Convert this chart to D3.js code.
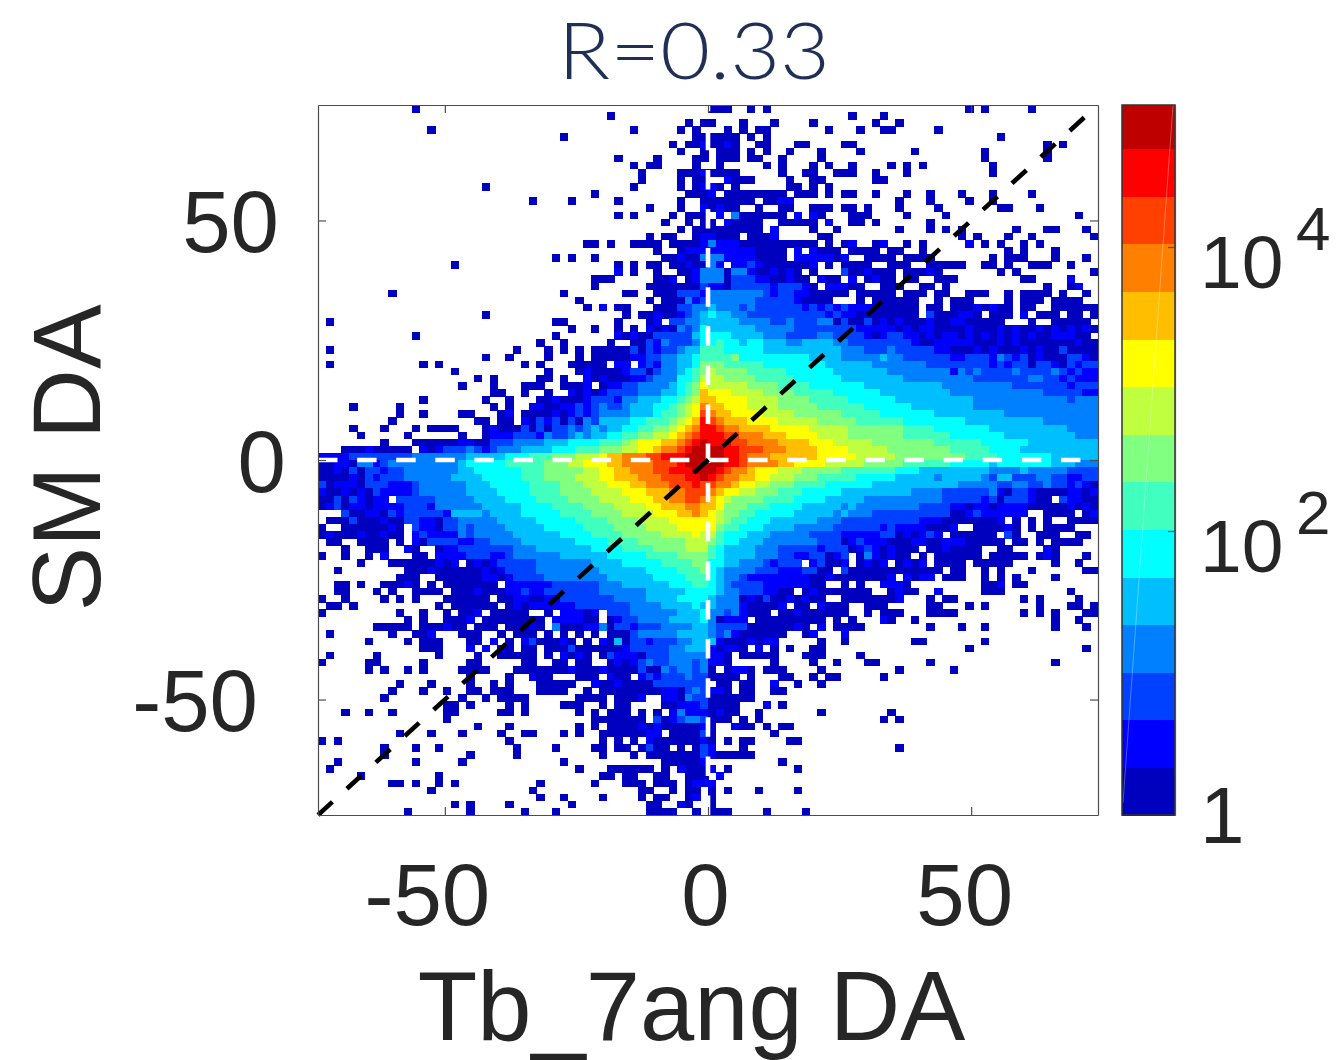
<!DOCTYPE html>
<html>
<head>
<meta charset="utf-8">
<title>R=0.33</title>
<script src="https://cdn.jsdelivr.net/npm/d3@7"></script>
<style>
html, body { margin: 0; padding: 0; background: #fff; }
svg { display: block; }
text { font-family: "Liberation Sans", Arial, sans-serif; fill: #262626; }
</style>
</head>
<body>
<div id="chart"></div>
<script>
var titleText = "R=0.33";
var xLabel = "Tb_7ang DA";
var yLabel = "SM DA";
var xTicks = [-50, 0, 50];
var yTicks = [-50, 0, 50];
var colorTicks = [1, 100, 10000];
var axisLimit = 74.1;
var identityLine = [-74.1, 74.1];

// one colour per class, three classes per decade of counts
var classColors = ["#0000BF", "#0000FF", "#0040FF", "#0080FF", "#00BFFF", "#00FFFF", "#40FFBF", "#80FF80",
	"#BFFF40", "#FFFF00", "#FFBF00", "#FF8000", "#FF4000", "#FF0000", "#BF0000"];

// histogram classes, one entry per row from the top.
// "col:chars" = hex-like class chars (0..e) starting at that column, the rest of the row is empty
var heatRows = [
"12:0 50:000 55:0 57:0 83:0 85:0 91:0",
"37:0 68:0 72:0",
"47:0 49:0 50:0 54:0 58:0 63:0 71:0 74:0",
"14:0 40:0 46:0 48:0 52:0 54:0 56:00 65:0 69:0 72:00 79:0",
"31:0 48:000000 55:0 57:0 87:0",
"45:0 47:0 48:010010 56:00 61:00 67:00 93:0 95:0",
"46:0 49:0 51:000 55:0 57:0 60:0 64:0 69:0 76:0 85:0 93:0",
"38:0 43:0 48:00 51:000 55:00 59:0 64:0 85:0 93:0",
"40:0 42:00 48:0 51:0 57:0 59:0 63:0 65:0 68:0 73:0 75:0 77:0 86:0",
"41:0 46:0001 50:0000 59:0 62:00 66:000 71:0 75:0 86:0",
"41:0 46:0 48:00 52:1 53:000 60:0 63:00 71:00",
"21:0 40:0 46:0 48:0 49:1 50:1 51:0 53:0 60:00 63:0 65:0",
"35:0 47:000 50:1 52:00000000 61:000 65:0 67:00 71:0 75:0 78:0 82:0 86:0 91:0",
"27:0 32:0 38:0 46:0 49:0000000 57:00 59:11 74:0 78:0 83:0 86:0",
"42:0 46:0 49:1 50:0100 56:0 59:00 63:000 67:00 70:0 74:0 79:0 87:00 92:0",
"38:0 40:0 45:0 47:00 49:0 51:1 53:3 54:000000 61:1 63:10 68:000 75:0 80:0 97:0",
"44:0 47:0 49:00 52:1 53:0000 59:00000 65:1 68:00 71:0 78:0",
"46:0 48:00 50:0000000 58:1 63:0 66:0 74:0 78:0 80:0 82:0 89:0 93:00 98:0",
"42:0 44:00 48:0 49:1 50:1 51:000 55:000 58:1 64:00 82:0 84:0 88:0 91:0 99:0",
"34:00 37:0 40:0000 45:0000 49:1 50:3 51:111 54:0000000000 65:0 67:0 68:1 71:0 72:1 75:0 77:0 83:1 85:0 87:0 90:0 92:0",
"43:0 46:0 47:111 50:1 51:1 52:111 55:1 56:00 58:00 61:1 63:1 64:000 68:0000 73:00 77:0 88:0 90:0 94:0",
"30:0 32:0 35:0 44:00 46:1 47:00 49:3 50:3 51:3 52:11 54:11 56:0000 61:1 62:1111 66:00 67:1 70:0000 75:0000 86:0 88:000 94:0 98:0",
"17:0 38:0 40:0 42:00 45:00 47:1 48:00 50:3 51:1 53:111 55:2 56:1 57:00 59:00 61:00 63:1 65:0 67:0000 73:0 74:00 78:00000 85:00 88:0 91:000 96:0",
"38:1 40:0 43:0 46:00 48:1 49:3 50:3 51:3 52:0 53:3 54:3 55:1 56:00 58:1 59:0 60:1 61:0 63:0 67:2 68:00 70:1 71:000 75:0 76:00 78:1 79:0 87:0 89:0 99:0",
"35:000 43:00 45:1 47:0 48:1 49:3 50:3 51:3 52:0 53:222 56:1 57:1 58:00 60:1 61:00 64:1 65:00 68:1 70:0 71:1 72:00 75:00 79:000 90:00 96:1",
"35:0 42:000000 48:00 49:2 50:1 51:1 52:0 53:22222 58:1 59:222 62:1 63:0 65:111 68:00 72:000 77:00 80:0 93:0 96:01",
"9:0 31:0 39:00 43:000 46:222 49:1 50:3 51:333333 57:2 58:1 59:22 61:1 62:1 63:00 65:000 69:0000 73:0 75:000 79:00 83:00 85:0 88:0 90:0000 95:0 98:0",
"33:0 42:0 44:000 47:3 48:1 49:2 50:3 51:33333 56:222 59:22 61:1 62:0000 69:0 71:000000 79:0 81:00 83:0 88:0 90:000 94:0000",
"34:0 36:1 38:00 43:000 46:22 48:3 49:3 50:4 51:333 54:2 55:3 56:222 59:222 62:1 63:2 64:1 65:2 66:1 67:2 68:111 71:0 72:00 74:0 75:00 78:0 79:0 81:000 84:1 85:0 86:1 87:00 90:00 94:000000",
"21:0 39:0 41:00 43:1 44:00 46:1 47:2 48:3 49:4 50:5 51:44 53:33 55:2 56:222222222 65:1 66:2 67:11 69:00 71:0000 75:00 78:2 79:000 82:1 83:1 84:0 86:000 90:1 92:00 94:0 96:00 99:0",
"1:0 30:00 38:0 42:0 43:1 45:22 47:33 49:4 50:4444 54:333 57:3 58:22 60:3 61:222 64:3 65:3 66:0 67:2 68:0 69:0 70:2 71:0101 75:00 77:0 78:1 79:00 81:11 83:0 84:0 85:000 91:0 94:0 95:000 98:0",
"32:0 35:0 38:0 40:0 42:1 43:0 44:1 45:0 46:3 47:2 48:3 49:5 50:444444 56:3 57:3333 61:2222222 68:2 69:1 70:1111 74:0101 78:1 79:000 82:0 83:1 84:0 85:00 87:1 88:0 89:1 90:00 92:1 93:0 94:101 97:0 98:10",
"12:0 30:0 38:1 39:0 40:1 41:00 43:22222 48:4 49:5555 53:4444 57:333 60:2222 64:33 66:2222 70:1 71:0122 75:1101 79:0 80:11 82:01 84:0 85:1 86:0 87:1 88:0 89:10 91:10 93:01 95:11 97:0 98:0",
"28:0 31:0 37:0 40:00 42:2 43:1 44:3 45:2222 48:3 49:556 52:55 54:4 55:55 57:444 60:33 62:4444 66:33 68:222222 74:22 76:1 77:00 79:1 80:11 82:1 83:1 84:000 87:1 88:0 89:1 90:000000 96:0 97:1 98:00",
"1:0 25:0 29:0 31:0 33:0 35:00000 40:2 41:0 42:2 43:1 44:22 46:3 47:44 49:666 52:55555 57:4444444444 67:333 70:22 72:2 73:3 74:2222 78:2 79:11 81:0 82:0 83:0 84:1 85:0 86:1 87:00 89:0 90:1 91:0 92:1 93:00 95:2 96:0 97:000",
"21:0 24:0 29:0 33:0 35:00000 40:11 42:22 44:33 46:44 48:5 49:66667 54:5 55:55555 60:555 63:4444 67:33333 72:4 73:33 75:222222 81:11 83:222 86:1 87:3 88:2 89:1 90:2 91:0 92:1 93:0 94:00 96:2 97:2 98:1 99:0",
"1:0 13:0 15:0 26:0 28:0 32:00000 38:11 41:1 42:2 43:1 44:33 46:44 48:5 49:777 52:66666 57:55555555 65:444444 71:3333333 78:22222222 86:1 87:2 88:1 89:2 90:2 91:0 92:2 93:2 94:1 95:0 96:2 97:1 98:2 99:2",
"17:0 29:0 33:0 34:1 35:0000 39:1 40:22 42:0 43:2 44:33 46:4 47:5 48:6 49:7 50:8 51:7777 55:66666 60:555555 66:4444444 73:33333333 81:1 82:3 83:2 84:3 85:2 86:222 89:3 90:2222 94:3 95:2 96:1 97:2 98:1 99:1",
"20:0 22:0 28:00 31:0 34:1 35:0 36:1 37:000 40:11 42:2 43:333 46:55 48:6 49:888 52:7777 56:66666 61:555555 67:44444444 75:333333333 84:2222222 91:33 93:22 95:1 96:2 97:1 98:1 99:1",
"18:0 22:0 26:000 31:000 34:1 36:0 37:11 39:22 41:3333 45:4 46:5 47:6 48:7 49:988 52:888 55:7777 59:6666 63:5555555 70:4444444444 80:333333333 89:2222222 96:1 97:222",
"22:00 26:0 29:0 32:1 33:0 34:1 35:0 36:1 37:2222 41:333 44:44 46:5 47:6 48:7 49:a99 52:9 53:8888 57:7777 61:66666 66:555555 72:444444444 81:333333333333 93:22222 98:11",
"13:0 21:0 24:0 28:00 30:1 31:000 34:1 35:222 38:1 39:33 41:444 44:555 46:6 47:7 48:8 49:aa 51:9999 55:8888 59:7777 63:66666 68:555555 74:4444444444 84:333333333333 96:2 97:33 99:3",
"4:0 10:0 22:0 24:0 27:11 29:00 31:11 33:2 34:1 35:2 36:3 37:22 39:3 40:444 43:55 45:6 46:7 47:8 48:9 49:baa 52:999 55:8888 59:77777 64:666666 70:555555 76:44444444 84:3333333333333333",
"10:0 13:0 18:00 23:0 24:1 26:000 29:0 30:1 31:0 32:1 33:2 34:1 35:2 36:3333 40:444 43:5 44:66 46:7 47:8 48:9 49:cba 52:a 53:9999 57:8888 61:777777 67:66666 72:5555555 79:444444444 88:333333333333",
"9:0 20:00 23:00 26:1 27:0 28:2 29:1 30:2 31:0 32:2 33:0 34:3 35:2 36:4444 40:55 42:666 45:7 46:8 47:9 48:a 49:dcb 52:aaa 55:9999 59:88888 64:77777 69:666666 75:55555555 83:4444444444 93:3333333",
"4:0 8:0 12:0 14:0000 21:0 22:1 23:000 26:2 27:0 28:2 29:0 30:22 32:3 33:2 34:3 35:4 36:3 37:44 39:55 41:66 43:77 45:8 46:9 47:a 48:b 49:ddc 52:bb 54:aaaa 58:99999 63:88888 68:7777777 75:6666 79:5555555 86:4444444444 96:3333",
"5:0 11:0 18:0 21:0 22:111 25:222 28:1 29:3 30:22 32:3 33:4 34:3 35:44 37:55 39:66 41:77 43:88 45:9 46:a 47:b 48:c 49:ddd 52:cc 54:bbb 57:aaa 60:9999 64:8888 68:7777777 75:666666 81:5555555 88:444444444 97:333",
"8:0 12:000000 18:11 20:00 22:222 25:3333 29:444 32:5555 36:666 39:7 40:8 41:999 44:aa 46:b 47:c 48:d 49:eddd 53:cc 55:bbbb 59:aaaa 63:999 66:88888 71:77777777 79:666666 85:555555 91:444444444",
"3:000 6:1 7:00000 13:1 14:0 15:1 16:222 19:3 20:2 21:1 22:2 23:333 26:4444 30:555 33:666 36:777 39:88 41:99 43:a 44:bb 46:c 47:d 48:e 49:eeedd 54:ccc 57:bbb 60:aaaa 64:9999 68:88888 73:77777777 81:66666 86:5555 90:4444444444",
"0:111 3:1 4:22222222 12:3333333 19:44444 24:555 27:666 30:777 33:888 36:9 37:aa 39:bbb 42:cc 44:ddd 47:ee 49:eee 52:dd 54:c 55:bbb 58:aaaaaa 64:99999 69:88888 74:77 76:7777777 83:6666 87:555555 93:5 94:444444",
"0:00110 5:33 7:1 8:2 9:3 10:3333 14:3333 18:4 19:55555 24:66666 29:777 32:88 34:999 37:aa 39:bbbb 43:ccc 46:d 47:ee 49:eee 52:dd 54:c 55:bbbb 59:aa 61:9999 65:88888 70:77777 75:666666 81:55555 86:4 87:5555555 94:444 97:333",
"0:00102 5:0 6:22 8:1 9:22 11:3333333 18:44 20:555555 26:666 29:77777 34:88 36:99 38:aa 40:bbb 43:cc 45:ddd 48:e 49:eed 52:c 53:bb 55:a 56:999 59:888 62:77777 67:6666666 74:555 77:444444444 86:3333 90:4 91:33333 96:2222",
"0:00001 5:0 6:2 7:1 8:222 11:333333 17:4444 21:55555 26:666 29:7777 33:888 36:99 38:aaa 41:bbb 44:ccc 47:dd 49:edc 52:bb 54:aa 56:99 58:888 61:777 64:66666 69:55555 74:44444 79:3 80:44444 85:3 86:2 87:44 89:222 92:33 94:22 96:11 98:22",
"0:20111 5:0 6:222 9:111 12:2 13:333333 19:444 22:55555 27:6666 31:777 34:888 37:999 40:aa 42:bbb 45:ccc 48:d 49:ccb 52:b 53:a 54:99 56:88 58:777 61:6666 65:555555 71:44444444444 82:3333 86:3 87:22 89:33 91:22 93:3 94:22 96:1 97:2 98:1 99:0",
"0:10010 5:1 6:0 7:2 8:1111 12:2 13:333333 19:4444 23:5555 27:6666 31:7777 35:8888 39:999 42:aaa 45:bb 47:cc 49:cba 52:99 54:88 56:777 59:666 62:55555 67:444444444 76:3333 80:222222 86:3 87:1 88:0 89:22 91:1 92:0000 96:11 98:0 99:1",
"0:00202 5:1 6:0 7:11 10:222222 15:33333 20:4444 24:5555 28:6666 32:7777 36:8888 40:999 43:aa 45:bb 47:cc 49:ba9 52:8 53:7777 57:6666 61:5555 65:44444 70:3333333333 80:22222 85:1 86:2 87:0 88:222 91:1 92:00 95:2 96:11 98:00",
"0:01201 5:1 6:0 7:1111 11:222 14:1 15:333333 21:44444 26:5555 30:6666 34:7777 38:8888 42:99 44:aaa 47:bb 49:aa9 52:777 55:666 58:5555 62:44444 67:3 68:4 69:33333333 77:2222 81:11 83:0 84:11 86:0 87:1111 91:0 92:000 95:0 96:1 97:0 98:1 99:0",
"3:2 4:00 6:11 8:0 9:2 10:1 11:22222 16:1 17:4444 21:3 22:4444 26:55555 31:6666 35:7777 39:8888 43:999 46:aa 48:b 49:a98 52:77 54:66 56:55555 61:44444 66:3 67:4 68:333 71:22 73:22222222 81:00 83:1 84:2 85:1 86:11 88:111 93:0000 98:0 99:1",
"1:000 4:2 5:000 8:1 9:00 11:22 13:11 15:0 16:22 18:333 21:33 23:44444 28:55555 33:6666 37:7777 41:8888 45:9999 49:998 52:7 53:66 55:555 58:444444 64:333 67:222222222 76:2 77:111 80:0000 84:000 87:1 89:0 91:0 93:0 96:00 98:00",
"0:0 3:0000 7:00 9:1 10:0 12:2 13:11 15:0 16:22 18:3 19:2 20:3333 24:44444 29:55555 34:6666 38:7777 42:8888 46:999 49:997 52:66 54:555 57:4444 61:33333 66:222222 72:1 73:2 74:1111 78:00 80:0 81:1 84:0 85:00 87:0 88:1 89:0 91:0 93:00 95:00",
"0:0 1:1 2:000 5:1 6:00 8:1 9:00 12:1 13:2 14:111 17:1 18:3 19:2 20:33333 25:444444 31:5555 35:6666 39:77777 44:8888 48:9 49:886 52:555 55:444 58:33333 63:2222 67:1111 71:1 72:22 74:0 75:1 76:0 77:1 78:2 79:1 81:00 83:0 84:000 88:2 89:0 92:000 97:00",
"1:00 5:0 6:000 10:0 12:1 13:0 14:2222 18:11 20:22 22:3333 26:4444444 33:5555 37:6666 41:777777 47:88 49:876 52:55 54:444 57:3333333 64:222 67:0 68:1 69:2 70:111 73:0 74:00 76:11 78:00 80:11 82:1 83:0 84:0000 89:00 92:0 94:00 96:00",
"3:0 6:000 8:0 11:1 12:0 15:0 16:11 18:2222222 25:333 28:4444444 35:5555 39:6666 43:7777 47:88 49:865 52:4444 56:333 59:22222 64:1 65:222 68:0 69:1 70:2 71:1 72:0 73:1 74:00 76:0 78:00 80:1 81:00 83:00 87:00 93:1 94:0",
"0:0 3:0 6:0 8:1 12:00 15:1111 19:2 20:22 22:11 24:2 25:333333 31:444444 37:55555 42:6666 46:777 49:765 52:4444 56:333 59:22 61:11 63:22 65:0 66:1 67:2 69:0 70:3 71:1 72:0 73:1 74:00 77:0 79:00000 84:0 86:0000 90:0 92:0 93:1 94:0 98:0",
"5:0 9:0000 13:00 15:1 16:0 17:1 19:0 20:1 21:0 22:1 23:22222 28:3333333 35:4444 39:55555 44:6666 48:7 49:755 52:44 54:333 57:2 58:1 59:222 63:1 64:2 65:00 67:1 69:0 70:1 71:0 72:1 74:0 75:1 76:0 77:1 79:0000 84:000 87:00 94:0 97:0",
"2:0 11:000 14:1 15:00000 20:0 21:1 22:0 23:1 24:2222 28:33333333 36:444444 42:5555 46:666 49:75 51:4 52:3333 56:222 59:111 62:2 63:2 64:00 67:2 68:000000000000 81:00 85:0 87:0 91:0 98:00",
"10:000 15:0 16:00000 21:11 23:0 24:1 25:2222 29:33333333 37:444444 43:5555 47:66 49:654 52:33 54:2 55:1 56:111 59:111 62:1 63:00 65:1 66:00 68:00 70:00 72:0 73:1 75:1 76:0 77:11 80:000 85:0 87:0 89:0 94:0",
"2:00 5:0 8:000 11:1 12:0 14:0 16:000000 22:0 24:1 25:11111 30:222222 36:333 39:444444 45:555 48:6 49:655 51:4 52:3 53:2222 57:111111 63:00 67:0 69:0 72:111 75:0 85:00 87:1 89:00",
"2:00 7:0 9:0 12:0000 17:000 20:1 21:000 24:11 26:2 27:11 29:2222222 36:333333 42:44444 47:55 49:55 51:4 52:33 54:222 57:11 59:00 62:0 63:1 64:000000 70:0 73:0 74:1 75:00 79:1 85:00 87:0 96:0",
"0:0 3:0 8:0 10:0 12:0 16:000000 23:00 25:11 27:00 29:11 31:2222222 38:3333 42:4444 46:555 49:54 51:333 54:0 55:1 56:0 57:2 58:0 59:0 60:1 61:0 62:1 63:00 67:00000000 74:1 78:0 80:00 90:0 92:0 97:0",
"1:00 4:0 15:0 17:000 20:000 24:0 25:1 26:0 27:1 28:11111 33:2222222 40:3333 44:4444 48:5 49:44 51:333 54:1 55:0 56:000 59:1 61:00 64:1 65:000 70:000 78:00 83:0 85:0 92:0 96:00 99:0",
"0:0 10:0 13:0 16:0 18:00 20:1 22:000 25:00 29:0 31:111 34:0 35:1 37:222 40:333333 46:444 49:53 51:3 52:2 53:3 54:1 55:0 56:00 59:00 61:1 62:000000 70:0 72:000 78:0000 90:0 92:0 94:0 98:00",
"11:0 13:0 16:0 17:00 19:1 21:000 24:00 26:00 28:0 30:1 31:111 34:00 37:0 38:1 39:22 41:3333 45:4444 49:5 50:3 51:0 52:111 56:000000000 66:0 68:0 72:1 73:0 76:0 94:0 97:0",
"7:00000 13:000 16:1 17:00 20:000 24:000 27:1 28:0 30:3 31:000 34:11 36:3 37:0 38:22 40:1 41:222 44:3333 48:4 49:4 50:3 51:2222 55:000000 61:1 62:0 64:1 66:0000 78:0 82:0 85:0 94:0 98:0",
"1:0 9:0 12:00 14:1 18:000 23:0 25:0 26:00 29:0 31:0 33:0 35:0 37:0 38:00 40:2 41:33333 46:444 49:4 50:3 51:2 52:3 53:1 54:000000 62:0 63:1 67:1",
"6:0 11:0 13:00 15:0 19:00 22:1 24:0 26:1 27:2 28:00 30:0 31:1 32:0 34:0 36:1 37:0 38:4 39:0 40:22 42:1 43:222 46:33 48:4 49:4 50:4 51:1 52:000 55:1 56:0 57:11 64:0 67:0 76:00 85:0",
"13:000 19:1 21:1 23:1 24:0 26:00 29:000 32:2 33:000 36:000 39:1 40:22222 45:33 47:444 49:4 50:1 51:0 52:11 54:0 56:1 58:0 60:0 63:00 83:0 98:0",
"1:0 7:0 15:0 20:0 23:000 26:00 29:0 31:1 32:0 33:1 34:0 36:0 37:2 38:111 41:0 42:222 45:3333 49:3 50:11 52:0 54:00000 62:000 69:0",
"0:0 6:00 13:0 19:00 26:00 30:00 33:00 37:0 38:1 39:0 40:1 41:2 42:3 43:22 45:33 47:3 48:2 49:3 50:11 52:0 58:0 63:0 66:0 70:00 78:0 94:0",
"6:0 8:0 11:0 13:0 18:0000 25:00000 30:00 32:1 33:000 36:1 37:0000 41:2 42:00 44:3 45:2 46:33 48:2 49:3 50:0 52:0 53:11 55:0 57:000 64:0 74:0 81:0",
"19:0 24:0 27:1 28:00 33:000 37:1 38:00 41:1 42:2 43:1 44:222 47:3 48:2 49:2 50:0000 55:0 59:00 63:0 65:00 72:0",
"10:0 14:0 19:0 22:0 24:0 28:00000 35:1 36:00 38:1 39:0000 43:22 45:2222 49:2 51:0 52:0 54:00 58:1 61:0 64:0",
"9:0 13:0 16:0 19:00 22:000 28:0000 34:0 36:000 39:00000 44:11 46:0 47:2 48:3 49:2 50:11 52:0 54:00 58:00",
"8:0 18:0 21:0 23:0000 33:0000 38:00 40:00 41:1 44:11 46:0 47:3 48:2 49:2 50:0000 54:00",
"16:00 19:0 24:0 26:0 31:000 36:0 38:00 44:00 46:111 49:2 50:0000 57:1 59:0",
"3:0 6:0 9:0 16:00 23:00 26:0 33:0 35:0 37:000 41:0 43:0 45:1 46:3 47:11 49:1 50:01 52:00 56:0 64:0 73:0",
"16:0 35:0000000 43:2 44:0 45:1 46:2 47:333 49:2 50:000 54:0 56:0 72:0 74:0",
"20:0 24:0 33:0 35:0 37:0000 41:1 42:0 43:1 44:00 46:000 49:1 50:0 53:1 54:00 57:0 59:00",
"10:0 14:0 18:0 23:0 26:00 31:0 33:0 36:000000 42:11 45:00 47:00 49:2 50:0 58:0",
"0:0 2:0 24:0 36:0 38:0 40:0 42:1 43:0 44:000000 49:1 50:0 52:0 54:00 60:00",
"8:0 12:0 15:0 25:0 30:0 35:00 38:00 41:0 42:2 43:0 44:0 46:0 48:0 49:2 50:1 54:0 74:0",
"8:0 19:0 25:0 36:0 40:0 42:00 44:00000 49:2 50:1 51:00000",
"2:0 12:0 18:0 31:0 44:000000 49:1 59:0",
"1:0 33:0 37:000000 44:0 46:1 47:00 49:0 50:1 52:0 61:0",
"5:0 15:0 36:00 39:00 43:00 47:000 51:1",
"9:00 12:0 15:0 17:0 28:0 35:0 39:000 43:000 47:01 49:11",
"14:0 27:0 41:00 45:0 47:00 50:0 52:0 56:0 61:0",
"28:0 31:0 36:0 41:0 43:00 47:0 48:1 50:0",
"17:0 19:0 24:0 32:0 42:00 46:10 50:0",
"11:0 19:0 26:0 30:0 42:0000 48:0 50:000 57:0 62:0"
];

var width = 1341, height = 1060;
var plot = {left: 318, right: 1098, top: 105, bottom: 815};
var bar = {left: 1122, right: 1175};

function parseRows(rows) {
	var cells = [];
	rows.forEach(function(row, r) {
		row.split(" ").forEach(function(seg) {
			var parts = seg.split(":");
			var start = +parts[0];
			parts[1].split("").forEach(function(ch, i) {
				cells.push({row: r, col: start + i, level: parseInt(ch, 16)});
			});
		});
	});
	return cells;
}

var svg = d3.select("#chart").append("svg").attr("width", width).attr("height", height);

var x = d3.scaleLinear().domain([-axisLimit, axisLimit]).range([plot.left, plot.right]);
var y = d3.scaleLinear().domain([-axisLimit, axisLimit]).range([plot.bottom, plot.top]);
var colBand = d3.scaleBand().domain(d3.range(100)).range([plot.left, plot.right]);
var rowBand = d3.scaleBand().domain(d3.range(100)).range([plot.top, plot.bottom]);
var color = d3.scaleOrdinal().domain(d3.range(classColors.length)).range(classColors);

// cells
svg.append("g").attr("shape-rendering", "crispEdges")
	.selectAll("rect")
	.data(parseRows(heatRows)).enter()
	.append("rect")
	.attr("x", function(d) { return colBand(d.col); })
	.attr("y", function(d) { return rowBand(d.row); })
	.attr("width", colBand.bandwidth() + 0.5)
	.attr("height", rowBand.bandwidth() + 0.5)
	.attr("fill", function(d) { return color(d.level); });

// guide lines
function addGuide(x1, y1, x2, y2, stroke) {
	svg.append("line")
		.attr("x1", x(x1)).attr("y1", y(y1))
		.attr("x2", x(x2)).attr("y2", y(y2))
		.attr("stroke", stroke)
		.attr("stroke-width", 4.6)
		.attr("stroke-dasharray", "19.5 19.6");
}
addGuide(-axisLimit, 0, axisLimit, 0, "#fff");
addGuide(0, -axisLimit, 0, axisLimit, "#fff");
addGuide(identityLine[0], identityLine[0], identityLine[1], identityLine[1], "#000");

// axes
function styleAxis(g) {
	g.selectAll("path,line").attr("stroke", "#4d4d4d").attr("stroke-width", 1.2);
	g.selectAll("text").style("font-size", "87px").attr("fill", "#262626");
}
var xShift = {"-50": -18, "0": -3, "50": -7};

svg.append("g").attr("transform", "translate(0," + plot.bottom + ")")
	.call(d3.axisBottom(x).tickValues(xTicks).tickSizeInner(-8).tickSizeOuter(0).tickPadding(0).tickFormat(d3.format("d")))
	.call(styleAxis)
	.selectAll("text")
	.text(function(d) { return String(d); })
	.attr("dy", 0).attr("y", 110)
	.attr("dx", function(d) { return xShift[d]; });

svg.append("g").attr("transform", "translate(" + plot.left + ",0)")
	.call(d3.axisLeft(y).tickValues(yTicks).tickSizeInner(-8).tickSizeOuter(0).tickPadding(0))
	.call(styleAxis)
	.selectAll("text")
	.text(function(d) { return String(d); })
	.attr("dy", 31)
	.attr("x", function(d) { return d === 0 ? -32 : (d < 0 ? -60 : -39); });

svg.append("g").attr("transform", "translate(0," + plot.top + ")")
	.call(d3.axisTop(x).tickValues(xTicks).tickSizeInner(-8).tickSizeOuter(0).tickFormat(""))
	.call(styleAxis);
svg.append("g").attr("transform", "translate(" + plot.right + ",0)")
	.call(d3.axisRight(y).tickValues(yTicks).tickSizeInner(-8).tickSizeOuter(0).tickFormat(""))
	.call(styleAxis);

// colour bar, the top class is cut a bit by the axis end
var barScale = d3.scaleLog().domain([1, 100000]).range([plot.bottom, plot.top]);
var barBand = d3.scaleBand().domain(d3.range(classColors.length)).range([plot.bottom, plot.top - 4]);

svg.append("g").attr("shape-rendering", "crispEdges")
	.selectAll("rect")
	.data(classColors).enter()
	.append("rect")
	.attr("x", bar.left)
	.attr("y", function(d, i) { return Math.max(barBand(i), plot.top); })
	.attr("width", bar.right - bar.left)
	.attr("height", function(d, i) { return barBand(i) + barBand.bandwidth() + 0.5 - Math.max(barBand(i), plot.top); })
	.attr("fill", function(d) { return d; });

svg.append("line")
	.attr("x1", bar.left + 1).attr("y1", plot.bottom - 12)
	.attr("x2", bar.right - 2).attr("y2", plot.top)
	.attr("stroke", "#fff").attr("stroke-opacity", 0.3).attr("stroke-width", 1);

svg.append("rect")
	.attr("x", bar.left).attr("y", plot.top)
	.attr("width", bar.right - bar.left).attr("height", plot.bottom - plot.top)
	.attr("fill", "none").attr("stroke", "#333").attr("stroke-width", 1.5);

svg.append("g").attr("transform", "translate(" + bar.right + ",0)")
	.call(d3.axisRight(barScale).tickValues(colorTicks.slice(1)).tickSizeInner(-7).tickSizeOuter(0).tickFormat(""))
	.call(styleAxis);

var barLabels = svg.append("g");
colorTicks.forEach(function(t) {
	var exponent = Math.round(Math.log10(t));
	var baseline = barScale(t) + (exponent === 0 ? 28 : 41);
	if (exponent === 0) {
		barLabels.append("text").attr("x", bar.left + 78).attr("y", baseline).style("font-size", "80px").text("1");
		return;
	}
	barLabels.append("text").attr("x", bar.left + 78).attr("y", baseline).style("font-size", "75px").text("10");
	barLabels.append("text").attr("x", bar.left + 174).attr("y", baseline - 38).style("font-size", "62px").text(exponent);
});

// labels
svg.append("text")
	.attr("x", 691.5).attr("y", 1040)
	.attr("text-anchor", "middle")
	.style("font-size", "97.5px")
	.text(xLabel);

svg.append("text")
	.attr("transform", "translate(100,458) rotate(-90)")
	.attr("text-anchor", "middle")
	.style("font-size", "97px")
	.text(yLabel);

svg.append("text")
	.attr("x", 694).attr("y", 79)
	.attr("text-anchor", "middle")
	.attr("textLength", 272)
	.attr("lengthAdjust", "spacingAndGlyphs")
	.style("font-family", "Lato, 'Open Sans', sans-serif")
	.style("font-weight", 300)
	.style("font-size", "78px")
	.style("fill", "#1F2F56")
	.text(titleText);
</script>
</body>
</html>
